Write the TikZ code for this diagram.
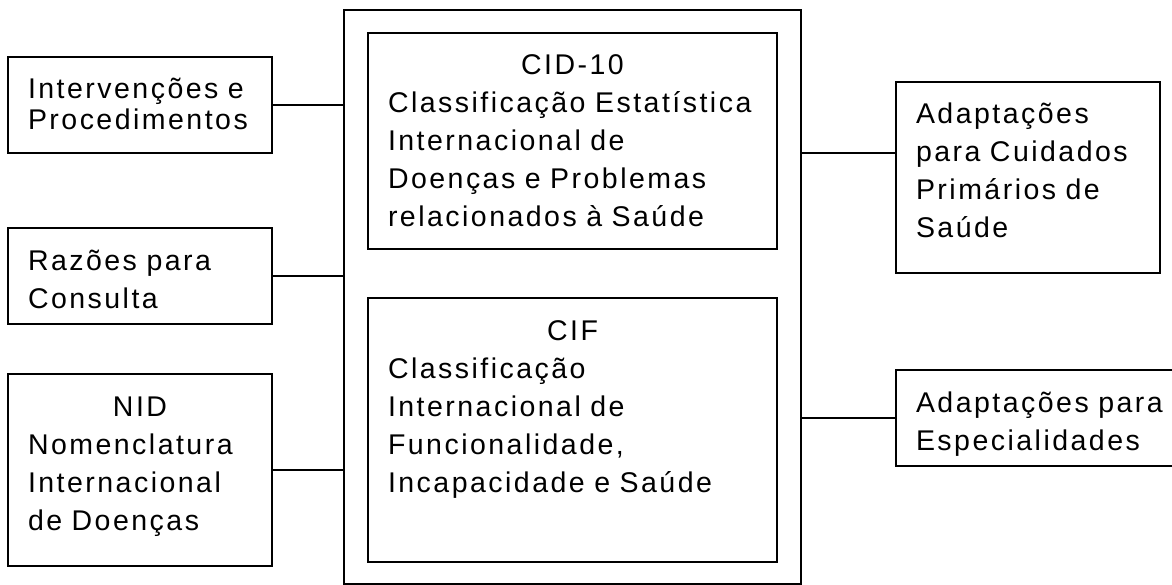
\documentclass[tikz,border=0pt]{standalone}
\usepackage{fontspec}
\setmainfont{Liberation Sans}[LetterSpace=8.7]
\usetikzlibrary{positioning}

\tikzset{
  box/.style={draw, rectangle, line width=2pt, inner xsep=20pt, inner ysep=22pt,
    text height=20pt, align=left},
  link/.style={line width=2pt},
}

\begin{document}
\begin{tikzpicture}[x=1pt, y=-1pt, node distance=48pt, font=\fontsize{28.5}{38}\selectfont]
\useasboundingbox (0,0) rectangle (1172,585);
\clip (0,0) rectangle (1172,585);

% central frame with the two classifications
\node[draw, line width=2pt, minimum width=457pt, minimum height=573pt] (frame) at (572.5,297) {};
\node[box, text width=369pt, text depth=152pt] (cid) at (572.5,141)
  {\hfill CID-10\hfill\null\\Classificação Estatística\\Internacional de\\Doenças e Problemas\\relacionados à Saúde};
\node[box, text width=369pt, text depth=200pt] (cif) at (572.5,430)
  {\hfill CIF\hfill\null\\Classificação\\Internacional de\\Funcionalidade,\\Incapacidade e Saúde};

% left side
\node[box, text width=224pt, text depth=32pt, font=\fontsize{28.5}{31}\selectfont] (interv) at (140,105)
  {Intervenções e\\Procedimentos};
\node[box, text width=224pt, text depth=32pt, below=73pt of interv] (razoes)
  {Razões para\\Consulta};
\node[box, text width=224pt, text depth=128pt, below=of razoes] (nid)
  {\hfill NID\hfill\null\\Nomenclatura\\Internacional\\de Doenças};

% right side
\node[box, text width=224pt, text depth=127pt] (cuid) at (1028,177.5)
  {Adaptações\\para Cuidados\\Primários de\\Saúde};
\node[box, text width=249pt, text depth=32pt] (espec) at (1040.5,418)
  {Adaptações para\\Especialidades};

\coordinate (cuidin) at ([yshift=24.5pt]cuid.west);

\draw[link] (interv.east) -- (interv.east -| frame.west);
\draw[link] (razoes.east) -- (razoes.east -| frame.west);
\draw[link] (nid.east) -- (nid.east -| frame.west);
\draw[link] (frame.east |- cuidin) -- (cuidin);
\draw[link] (frame.east |- espec.west) -- (espec.west);
\end{tikzpicture}
\end{document}
